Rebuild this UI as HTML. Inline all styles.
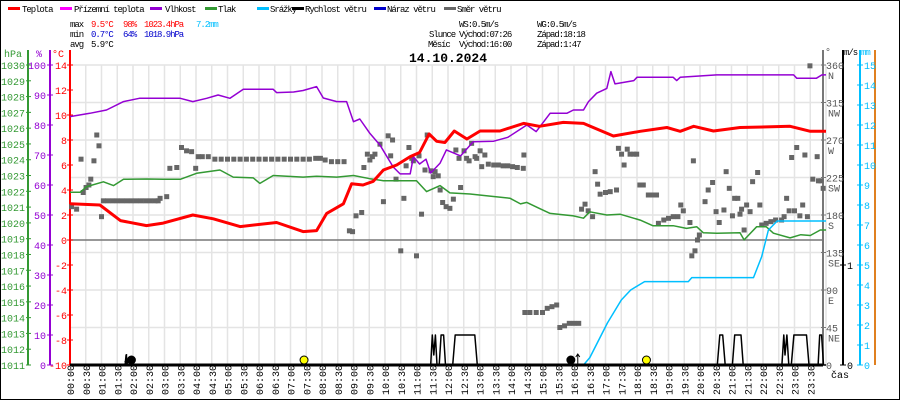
<!DOCTYPE html>
<html><head><meta charset="utf-8"><style>
html,body{margin:0;padding:0;background:#fff}
svg{display:block;font-family:"Liberation Mono",monospace}
.s{font-size:9px;letter-spacing:-1.05px}
</style></head><body>
<svg id="c" width="900" height="400" viewBox="0 0 900 400">
<rect x="0.5" y="0.5" width="899" height="399" fill="#fff" stroke="#000"/>
<g id="grid"></g>
<g id="axes"></g>
<g id="series"></g>
<g class="s">
 <g><rect x="8" y="7" width="12" height="3" fill="#f00"/><text x="22" y="12">Teplota</text></g>
 <g><rect x="60" y="7" width="12" height="3" fill="#f0f"/><text x="74" y="12">Přízemní teplota</text></g>
 <g><rect x="150" y="7" width="12" height="3" fill="#9400d3"/><text x="165" y="12">Vlhkost</text></g>
 <g><rect x="205" y="7" width="12" height="3" fill="#339933"/><text x="218" y="12">Tlak</text></g>
 <g><rect x="257" y="7" width="12" height="3" fill="#00bfff"/><text x="257" y="12" dx="13">Srážky</text></g>
 <g><rect x="292" y="7" width="12" height="3" fill="#000"/><text x="305" y="12">Rychlost větru</text></g>
 <g><rect x="374" y="7" width="12" height="3" fill="#0000cc"/><text x="387" y="12">Náraz větru</text></g>
 <g><rect x="444" y="7" width="12" height="3" fill="#666"/><text x="457" y="12">Směr větru</text></g>
</g>
<g class="s">
 <text x="70" y="27">max</text><text x="91" y="27" fill="#f00">9.5°C</text><text x="123" y="27" fill="#f00">98%</text><text x="144" y="27" fill="#f00">1023.4hPa</text><text x="196" y="27" fill="#00bfff">7.2mm</text>
 <text x="70" y="37">min</text><text x="91" y="37" fill="#0000cc">0.7°C</text><text x="123" y="37" fill="#0000cc">64%</text><text x="144" y="37" fill="#0000cc">1018.9hPa</text>
 <text x="70" y="47">avg</text><text x="91" y="47">5.9°C</text>
 <text x="459" y="27">WS:0.5m/s</text><text x="537" y="27">WG:0.5m/s</text>
 <text x="429" y="37">Slunce</text><text x="459" y="37">Východ:07:26</text><text x="537" y="37">Západ:18:18</text>
 <text x="428" y="47">Měsíc</text><text x="459" y="47">Východ:16:00</text><text x="537" y="47">Západ:1:47</text>
</g>
<text x="448" y="62" font-size="13" font-weight="bold" text-anchor="middle">14.10.2024</text>
</svg>
<script>
// ---- data ----
const tempT=[0,0.95,1.6,2.43,2.96,3.9,4.55,5.4,6.56,7.4,7.83,8.15,8.68,8.94,9.3,9.63,9.95,10.37,10.8,11.1,11.4,11.64,11.9,12.2,12.6,13.02,13.65,14.4,14.9,15.66,16.3,17.25,18.1,18.95,19.37,19.8,20.43,21.27,22.86,23.5,24];
const tempV=[2.9,2.8,1.55,1.15,1.35,2.0,1.7,1.07,1.4,0.67,0.75,2.13,2.9,4.5,4.4,4.7,5.6,6.0,6.67,7.0,8.48,7.9,7.8,8.72,8.08,8.72,8.72,9.33,9.1,9.41,9.33,8.32,8.7,9.0,8.7,9.1,8.72,9.0,9.1,8.7,8.7];
const humT=[0,0.63,1.16,1.7,2.2,3.07,3.5,3.9,4.34,4.7,5.08,5.5,6.45,6.56,7.1,7.4,7.83,8.04,8.47,8.78,9.0,9.2,9.52,9.84,10.26,10.48,10.8,10.9,11.1,11.3,11.45,11.75,11.95,12.4,12.8,13.45,13.9,14.5,14.8,15.24,15.77,15.98,16.3,16.46,16.72,17.04,17.17,17.3,17.9,18.0,19.15,19.26,19.37,20.53,22.97,23.07,23.7,23.87,24];
const humV=[82.8,83.9,85,87.8,88.9,88.9,88.9,87.8,88.9,90,88.9,91.9,91.9,90.8,91,91.5,92.8,89,87.8,87.8,81.1,82,77.2,73.3,66,63.7,63.7,69.4,67,68.6,64,67.3,71.7,69.7,74.4,74.6,75.9,80,77.8,83.9,83.9,85,85,87.8,90.6,92.2,97.8,93.7,94.8,95.9,95.9,94.8,95.9,96.7,96.7,95.6,95.6,96.7,96.7];
const presT=[0,0.32,0.53,1.06,1.38,1.7,2.43,2.96,3.5,4.02,4.76,5.18,5.82,6.03,6.45,7.4,7.83,8.47,9.0,9.52,9.95,11.0,11.32,11.75,12.06,12.7,13.33,13.97,14.3,14.5,14.9,15.24,15.98,16.3,16.5,17.04,17.46,18.1,18.5,19.15,19.57,19.9,20.1,20.53,21.27,21.4,21.8,22.1,22.33,22.86,23.2,23.5,23.82,24];
const presV=[1021.94,1021.94,1022.3,1022.6,1022.36,1022.76,1022.78,1022.76,1022.76,1023.14,1023.35,1022.9,1022.85,1022.5,1023.0,1022.9,1022.95,1022.9,1023.0,1022.8,1022.67,1022.67,1021.98,1022.36,1021.9,1021.83,1021.7,1021.56,1021.2,1021.3,1020.92,1020.6,1020.44,1020.3,1020.7,1020.5,1020.55,1020.18,1019.82,1019.82,1019.65,1019.75,1019.38,1019.35,1019.38,1018.92,1019.76,1019.76,1019.35,1019.05,1019.25,1019.2,1019.55,1019.55];
const rainT=[16.3,16.5,17.06,17.5,17.8,18.24,19.63,19.74,21.7,21.96,22.17,22.45,24];
const rainV=[0,0.37,2.1,3.25,3.75,4.17,4.17,4.37,4.37,5.42,6.75,7.2,7.2];
const windT=[0,1.75,1.78,1.82,11.45,11.5,11.55,11.6,11.65,11.72,11.78,11.86,11.92,12.15,12.23,12.85,12.93,20.55,20.63,20.72,20.8,21.03,21.1,21.3,21.37,22.6,22.66,22.7,22.76,22.82,22.9,22.98,23.38,23.46,23.75,23.8,23.86,23.92,24];
const windV=[0,0,0.1,0,0,0.3,0.1,0.3,0,0,0.3,0.3,0,0,0.3,0.3,0,0,0.3,0.3,0,0,0.3,0.3,0,0,0.3,0.1,0.3,0,0,0.3,0.3,0,0,0.3,0.3,0,0];
const dirT=[0.05,0.21,0.35,0.42,0.51,0.6,0.66,0.76,0.85,0.92,1.0,1.06,1.2,1.35,1.5,1.65,1.8,1.95,2.1,2.25,2.4,2.55,2.7,2.8,2.86,3.07,3.17,3.39,3.54,3.7,3.86,3.99,4.07,4.2,4.39,4.6,4.8,5.0,5.2,5.4,5.6,5.8,6.0,6.2,6.4,6.6,6.8,7.0,7.2,7.4,7.6,7.8,7.95,8.1,8.3,8.5,8.7,8.87,8.97,9.08,9.26,9.33,9.44,9.52,9.6,9.68,9.84,9.95,10.1,10.18,10.24,10.35,10.5,10.6,10.67,10.76,10.85,10.9,11.0,11.08,11.16,11.27,11.34,11.46,11.53,11.59,11.69,11.75,11.83,11.94,12.06,12.17,12.25,12.35,12.4,12.51,12.59,12.67,12.75,12.86,12.91,13.02,13.07,13.17,13.28,13.45,13.6,13.75,13.9,14.05,14.2,14.39,14.41,14.44,14.6,14.8,15.0,15.15,15.3,15.45,15.55,15.7,15.85,16.0,16.15,16.24,16.35,16.45,16.59,16.67,16.75,16.83,17.0,17.15,17.35,17.41,17.51,17.59,17.69,17.78,17.9,17.99,18.09,18.2,18.36,18.5,18.62,18.68,18.85,19.0,19.15,19.3,19.39,19.47,19.68,19.74,19.79,19.84,19.92,19.98,20.16,20.26,20.4,20.51,20.61,20.76,20.83,20.93,21.03,21.1,21.2,21.27,21.32,21.4,21.48,21.59,21.67,21.83,21.9,21.96,22.1,22.25,22.4,22.59,22.67,22.75,22.83,22.91,23.0,23.07,23.17,23.26,23.33,23.41,23.49,23.58,23.72,23.76,23.84,23.91];
const dirV=[190,187,247,207,213,216,223,245,276,263,178,197,197,197,197,197,197,197,197,197,197,197,197,197,200,202,236,237,261,257,256,236,250,250,250,247,247,247,247,247,247,247,247,247,247,247,247,247,247,247,247,248,248,246,244,244,244,161,160,179,183,237,253,246,250,253,265,196,275,251,270,223,137,200,239,261,248,245,131,251,181,234,276,233,226,232,227,210,195,190,188,199,258,248,213,257,248,245,266,250,248,257,238,252,241,240,240,239,239,238,237,236,252,63,63,63,63,68,70,72,45,47,50,50,50,187,193,185,178,232,217,205,207,208,210,260,253,240,259,253,253,253,216,216,204,204,204,170,174,176,178,178,192,185,171,131,245,137,150,156,196,210,219,184,171,186,232,212,179,200,200,181,187,162,192,184,220,231,192,168,170,172,174,174,178,200,185,249,185,261,179,192,252,178,359,223,250,221,221,212];
const hpaTicks=[1011,1012,1013,1014,1015,1016,1017,1018,1019,1020,1021,1022,1023,1024,1025,1026,1027,1028,1029,1030];
const humTicks=[0,10,20,30,40,50,60,70,80,90,100];
const tempTicks=[-10,-8,-6,-4,-2,0,2,4,6,8,10,12,14];
const dirTicks=[0,45,90,135,180,225,270,315,360];
const dirNames=["","NE","E","SE","S","SW","W","NW","N"];
const mmTicks=[0,1,2,3,4,5,6,7,8,9,10,11,12,13,14,15];
const msTicks=[0,1];

// ---- scales ----
const X0=70,X1=823,TOP=65,BOT=365;
const xs=h=>X0+h*31.5;
const yT=t=>240-t*12.5;
const yH=v=>BOT-v*3;
const yP=p=>TOP+(1030-p)*(300/19);
const yR=m=>BOT-m*20;
const yW=v=>BOT-v*100;
const yD=d=>BOT-d*300/360;

const NS="http://www.w3.org/2000/svg";
function mk(tag,attrs,parent){const e=document.createElementNS(NS,tag);for(const k in attrs)e.setAttribute(k,attrs[k]);parent.appendChild(e);return e;}
const grid=document.getElementById('grid'),axes=document.getElementById('axes'),ser=document.getElementById('series');

for(let i=0;i<=48;i++){const x=X0+i*15.75;const l=mk('line',{x1:x,x2:x,y1:TOP,y2:BOT,stroke:'#e4e4e4','stroke-width':1.5},grid);

}
for(let t=-10;t<=14;t+=3){const y=yT(t);const l=mk('line',{x1:X0,x2:X1,y1:y,y2:y,stroke:'#e4e4e4','stroke-width':1.5},grid);

}
const zl=mk('line',{x1:X0,x2:X1,y1:yT(0),y2:yT(0),stroke:'#777','stroke-width':1.5},grid);



function axis(x,y1,y2,col,name){const l=mk('line',{x1:x,x2:x,y1:y1,y2:y2,stroke:col,'stroke-width':2},axes);

}
axis(28,50,BOT,'#339933','hpa-axis');axis(50,50,BOT,'#9400d3','humidity-axis');axis(X0,50,BOT,'#f00','temperature-axis');
axis(X1,50,BOT,'#777','direction-axis');axis(843,50,BOT,'#000','wind-speed-axis');axis(860,50,BOT,'#00bfff','rain-axis');axis(875,50,BOT,'#e08020','gust-axis');
function lbl(x,y,txt,col,anchor,name){const t=mk('text',{x:x,y:y,fill:col,'font-size':10,'text-anchor':anchor},axes);t.textContent=txt;

return t;}
lbl(4,57,'hPa','#339933','start','hpa-axis-title');lbl(36,57,'%','#9400d3','start','humidity-axis-title');lbl(52,57,'°C','#f00','start','temperature-axis-title');
lbl(825,55,'°','#555','start','direction-axis-title');
const mst=lbl(844,55,'m/s','#000','start','wind-axis-title');mst.setAttribute('class','s');
const mmt=lbl(861,55,'mm','#00bfff','start','rain-axis-title');mmt.setAttribute('class','s');
hpaTicks.forEach(p=>{const y=yP(p);mk('line',{x1:26,x2:31,y1:y,y2:y,stroke:'#339933'},axes);lbl(25,y+4,String(p),'#339933','end','hpa-tick-label');});
humTicks.forEach(v=>{const y=yH(v);mk('line',{x1:47,x2:53,y1:y,y2:y,stroke:'#9400d3'},axes);lbl(46,y+4,String(v),'#9400d3','end','humidity-tick-label');});
tempTicks.forEach(v=>{const y=yT(v);mk('line',{x1:67,x2:73,y1:y,y2:y,stroke:'#f00'},axes);lbl(67,y+4,String(v),'#f00','end','temperature-tick-label');});
dirTicks.forEach((d,i)=>{const y=yD(d);mk('line',{x1:821,x2:826,y1:y,y2:y,stroke:'#777'},axes);lbl(826,y+4,String(d),'#555','start','direction-tick-label');lbl(828,y+14,dirNames[i],'#555','start','direction-compass-label');});
msTicks.forEach(v=>{const y=yW(v);mk('line',{x1:840,x2:846,y1:y,y2:y,stroke:'#000'},axes);lbl(847,y+4,String(v),'#000','start','wind-tick-label');});
mmTicks.forEach(v=>{const y=yR(v);mk('line',{x1:857,x2:863,y1:y,y2:y,stroke:'#00bfff'},axes);lbl(864,y+4,String(v),'#00bfff','start','rain-tick-label');});
lbl(831,378,'čas','#000','start','x-axis-title');
for(let i=0;i<48;i++){const x=X0+i*15.75;const hh=String(Math.floor(i/2)).padStart(2,'0')+':'+(i%2?'30':'00');
const t=mk('text',{x:0,y:0,'font-size':10,transform:`translate(${x+4},395) rotate(-90)`},axes);t.textContent=hh;

}

function path(T,V,ys,col,w,name){let d='';T.forEach((t,i)=>{const x=xs(t),y=ys(V[i]);d+=(i?'L':'M')+x.toFixed(1)+','+y.toFixed(1);});
const p=mk('path',{d:d,fill:'none',stroke:col,'stroke-width':w,'stroke-linejoin':'round'},ser);

}
dirT.forEach((t,i)=>{const r=mk('rect',{x:xs(t)-2.5,y:yD(dirV[i])-2.5,width:5,height:5,fill:'#666'},ser);

});
path(presT,presV,yP,'#339933',1.5,'pressure-line');
path(humT,humV,yH,'#9400d3',1.5,'humidity-line');
path(tempT,tempV,yT,'#f00',3,'temperature-line');
path(rainT,rainV,yR,'#00bfff',1.5,'rain-line');
path(windT,windV,yW,'#000',1.5,'wind-speed-line');
const ax=mk('line',{x1:X0,x2:X1,y1:BOT,y2:BOT,stroke:'#000','stroke-width':3},ser);


function mark(h,col,name){const c=mk('circle',{cx:xs(h),cy:360,r:4,fill:col,stroke:'#000','stroke-width':1},ser);

}
mark(1.95,'#000','moonset-marker');mark(7.43,'#ff0','sunrise-marker');mark(15.9,'#000','moonrise-marker');mark(18.3,'#ff0','sunset-marker');
mk('path',{d:`M${xs(1.8)},354 V364 M${xs(1.8)-2},361 L${xs(1.8)},364 L${xs(1.8)+2},361`,stroke:'#000',fill:'none'},ser);
mk('path',{d:`M${xs(16.12)},364 V354 M${xs(16.12)-2},357 L${xs(16.12)},354 L${xs(16.12)+2},357`,stroke:'#000',fill:'none'},ser);
</script>
</body></html>
